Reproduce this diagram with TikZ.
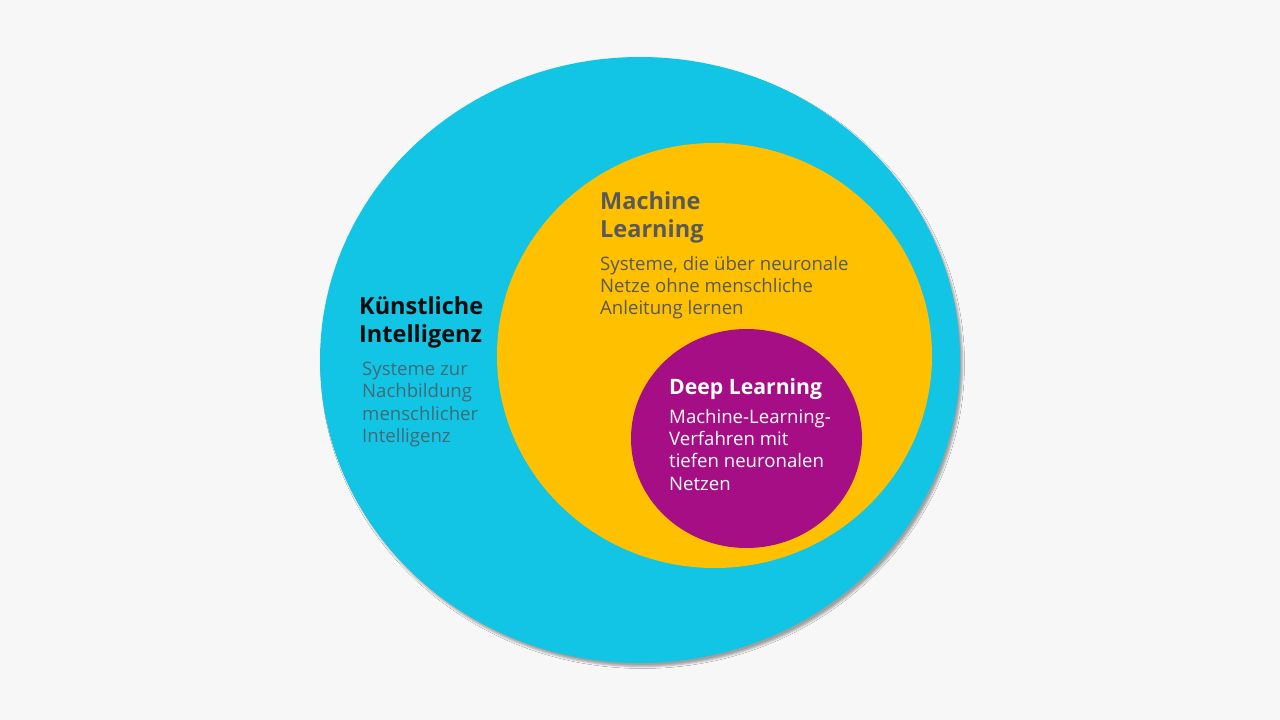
\documentclass[tikz,border=0pt]{standalone}
\usepackage{fontspec}
\setmainfont{Open Sans}
\usetikzlibrary{shapes.geometric,shadows.blur}

\definecolor{bggray}{HTML}{F7F7F7}
\definecolor{kiblue}{HTML}{13C5E5}
\definecolor{mlyellow}{HTML}{FFC000}
\definecolor{dlpurple}{HTML}{A50E84}
\definecolor{kitext}{HTML}{3F6B78}
\definecolor{mltext}{HTML}{595959}

\begin{document}
\begin{tikzpicture}[x=1pt,y=-1pt,
  bubble/.style={ellipse,inner sep=0pt,draw=none},
  head/.style={anchor=north west,inner sep=0pt,align=left,font=\fontsize{23.5}{28.4}\selectfont\bfseries},
  body/.style={anchor=north west,inner sep=0pt,align=left,font=\fontsize{18.6}{22.3}\selectfont}]
\fill[bggray] (0,0) rectangle (1280,720);
\useasboundingbox (0,0) rectangle (1280,720);

% the three nested sets
\node[bubble,fill=kiblue,minimum width=640pt,minimum height=606pt,
  blur shadow={shadow xshift=2.5pt,shadow yshift=-3.5pt,shadow blur radius=2pt,shadow opacity=35}] (ki) at (640,360) {};
\node[bubble,fill=mlyellow,minimum width=435pt,minimum height=425pt] (ml) at (714.5,355.5) {};
\node[bubble,fill=dlpurple,minimum width=231pt,minimum height=219pt] (dl) at (746.5,438.5) {};

% labels
\node[head,text=black!95] (kihead) at (359,296) {Künstliche\\Intelligenz};
\node[body,text=kitext] (kibody) at (362,362) {Systeme zur\\Nachbildung\\menschlicher\\Intelligenz};

\node[head,text=mltext] (mlhead) at (600,191) {Machine\\Learning};
\node[body,text=mltext] (mlbody) at (600,256) {Systeme, die über neuronale\\Netze ohne menschliche\\Anleitung lernen};

\node[head,text=white,font=\fontsize{21.2}{26}\selectfont\bfseries] (dlhead) at (669,378) {Deep Learning};
\node[body,text=white] (dlbody) at (669,409) {Machine-Learning-\\Verfahren mit\\tiefen neuronalen\\Netzen};
\end{tikzpicture}
\end{document}
